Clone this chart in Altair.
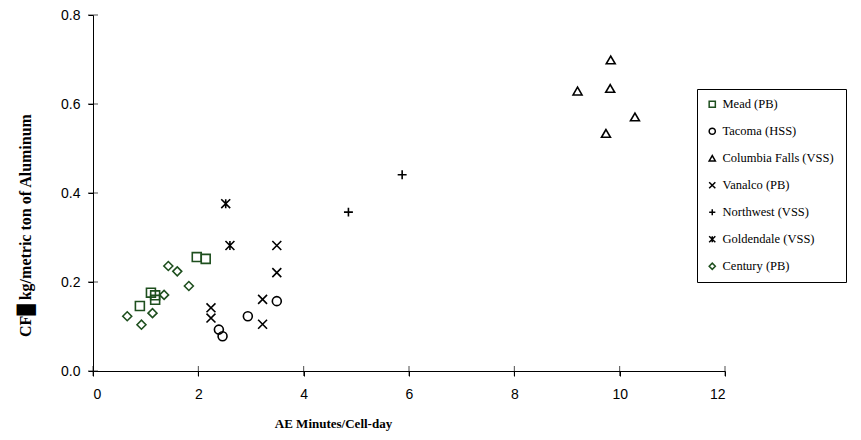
import altair as alt
import pandas as pd

series_names = ["Mead (PB)", "Tacoma (HSS)", "Columbia Falls  (VSS)", "Vanalco (PB)",
                "Northwest (VSS)", "Goldendale (VSS)", "Century (PB)"]

mead_x = [0.89, 1.10, 1.18, 1.18, 1.97, 2.14]
mead_y = [0.146, 0.176, 0.170, 0.160, 0.256, 0.252]
tacoma_x = [2.39, 2.46, 2.94, 3.49]
tacoma_y = [0.093, 0.078, 0.123, 0.157]
columbia_x = [9.20, 9.83, 9.82, 10.29, 9.74]
columbia_y = [0.629, 0.699, 0.635, 0.571, 0.534]
vanalco_x = [2.24, 2.24, 3.22, 3.22, 3.49, 3.49]
vanalco_y = [0.142, 0.119, 0.161, 0.105, 0.282, 0.221]
northwest_x = [4.85, 5.87]
northwest_y = [0.357, 0.441]
goldendale_x = [2.52, 2.60]
goldendale_y = [0.376, 0.282]
century_x = [0.65, 0.92, 1.13, 1.35, 1.43, 1.60, 1.82]
century_y = [0.123, 0.104, 0.130, 0.171, 0.236, 0.224, 0.191]

x_ticks = [0, 2, 4, 6, 8, 10, 12]
y_ticks = [0.0, 0.2, 0.4, 0.6, 0.8]

green = "#1e4f1e"
series_colors = [green, "black", "black", "black", "black", "black", green]
series_shapes = [
    "square",
    "circle",
    "triangle-up",
    "M-1,-1L1,1M-1,1L1,-1",
    "M-1,0L1,0M0,-1L0,1",
    "M-1,-1L1,1M-1,1L1,-1M0,-1L0,1",
    "diamond",
]

xs = [mead_x, tacoma_x, columbia_x, vanalco_x, northwest_x, goldendale_x, century_x]
ys = [mead_y, tacoma_y, columbia_y, vanalco_y, northwest_y, goldendale_y, century_y]
rows = []
for name, sx, sy in zip(series_names, xs, ys):
    for a, b in zip(sx, sy):
        rows.append({"series": name, "x": a, "y": b})
df = pd.DataFrame(rows)

xscale = alt.Scale(domain=[0, 12], nice=False, zero=False)
yscale = alt.Scale(domain=[0, 0.8], nice=False, zero=False)

points = alt.Chart(df).mark_point(filled=False, size=80, strokeWidth=1.6, opacity=1).encode(
    x=alt.X("x:Q", scale=xscale,
            axis=alt.Axis(values=x_ticks, title="AE Minutes/Cell-day", grid=False,
                          labelPadding=11, titleX=240, titleY=52, titleBaseline="middle",
                          titleAnchor="start", titleAlign="center")),
    y=alt.Y("y:Q", scale=yscale,
            axis=alt.Axis(values=y_ticks, format=".1f", title="CF\u2588 kg/metric ton of Aluminum",
                          grid=False, labelPadding=8, titleX=-68, titleY=210,
                          titleBaseline="middle", titleAnchor="start", titleAlign="center")),
    shape=alt.Shape("series:N", scale=alt.Scale(domain=series_names, range=series_shapes),
                    legend=alt.Legend(title=None)),
    color=alt.Color("series:N", scale=alt.Scale(domain=series_names, range=series_colors),
                    legend=alt.Legend(title=None)),
)

xt = alt.Chart(pd.DataFrame({"t": x_ticks, "z": [0] * len(x_ticks)})).mark_tick(
    orient="vertical", size=10, thickness=1, color="black").encode(
    x=alt.X("t:Q", scale=xscale), y=alt.Y("z:Q", scale=yscale))
yt = alt.Chart(pd.DataFrame({"t": y_ticks, "z": [0] * len(y_ticks)})).mark_tick(
    orient="horizontal", size=10, thickness=1, color="black").encode(
    y=alt.Y("t:Q", scale=yscale), x=alt.X("z:Q", scale=xscale))

chart = alt.layer(xt, yt, points).properties(
    width=632, height=356,
    autosize=alt.AutoSizeParams(type="none"),
    padding={"left": 85, "top": 7, "right": 128, "bottom": 61},
).configure_view(stroke=None).configure_axis(
    domainColor="black", domainWidth=1, tickColor="black", tickSize=5, tickWidth=1,
    labelFont="Liberation Sans", labelFontSize=14, labelColor="black",
    titleFont="Liberation Serif", titleFontSize=13, titleFontWeight="bold", titleColor="black",
).configure_axisY(titleFontSize=16).configure_legend(
    orient="none", legendX=604, legendY=74,
    strokeColor="black", padding=9, fillColor="white",
    labelFont="Liberation Serif", labelFontSize=12.5, labelColor="black",
    symbolSize=38, symbolStrokeWidth=1.5, rowPadding=14, labelOffset=4,
    symbolType="square",
)

chart.save("out.html", embed_options={"renderer": "svg", "actions": False})
